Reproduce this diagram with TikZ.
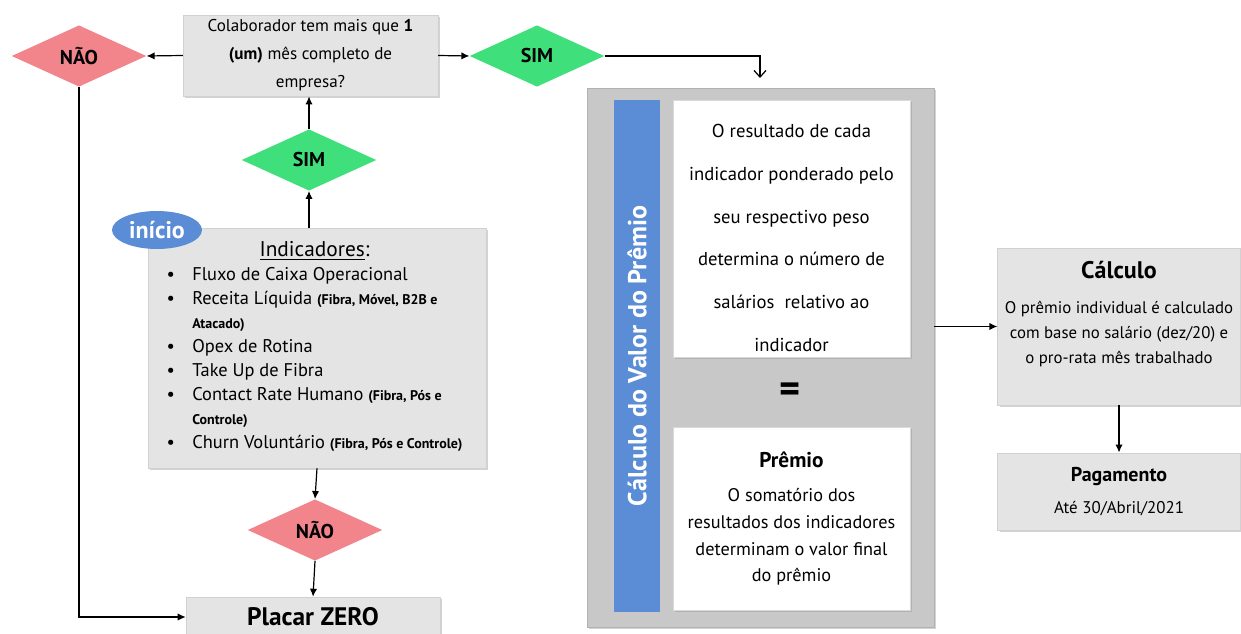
\documentclass[tikz,border=0pt]{standalone}
\usepackage{fontspec}
\setmainfont{PT Sans}
\usetikzlibrary{shapes.geometric,shadows,arrows.meta}

\definecolor{boxgray}{HTML}{E4E4E4}
\definecolor{framegray}{HTML}{C8C8C8}
\definecolor{barblue}{HTML}{5A8DD6}
\definecolor{naored}{HTML}{F2858C}
\definecolor{simgreen}{HTML}{3FE07C}

\begin{document}
\begin{tikzpicture}
      [x=0.75pt, y=-0.75pt,
       greybox/.style={
           rectangle,
           draw=black!18, fill=boxgray,
           drop shadow={shadow xshift=1.5pt, shadow yshift=-1.5pt, opacity=.35},
           inner sep=2pt,
           align=center
         },
       whitebox/.style={
           rectangle,
           draw=black!15, fill=white,
           drop shadow={shadow xshift=1.5pt, shadow yshift=-1.5pt, opacity=.3},
           inner sep=2pt,
           align=center
         },
       nao/.style={
           diamond, fill=naored, inner sep=0pt,
           minimum width=101pt, minimum height=46pt,
           font=\fontsize{15}{15}\selectfont\bfseries
         },
       sim/.style={
           diamond, fill=simgreen, inner sep=0pt,
           minimum width=101pt, minimum height=46pt,
           font=\fontsize{15}{15}\selectfont\bfseries
         },
       arr/.style={draw=black, line width=0.9pt, -{Latex[length=6pt,width=5.5pt]}},
       ]
    \useasboundingbox (0,0) rectangle (1241,634);

    % question and the first answers
    \node [greybox, minimum width=191pt, minimum height=61pt,
           font=\fontsize{12.8}{21}\selectfont] (quest) at (310.5,55.5) {
      Colaborador tem mais que \textbf{1}\\
      \textbf{(um)} mês completo de\\
      empresa?
    };
    \node [nao] (nao1) at (79,56) {NÃO};
    \node [sim] (sim1) at (537,56) {SIM};
    \node [sim] (sim2) at (309,160) {SIM};

    % indicators
    \node [greybox, minimum width=253.5pt, minimum height=180pt] (ind) at (317,348) {
      \fontsize{13.8}{18}\selectfont
      \begin{tabular}{@{}c@{\hspace{13pt}}l@{}}
        \multicolumn{2}{c}{\fontsize{16}{18}\selectfont\underline{Indicadores}:}\\
        \textbullet & Fluxo de Caixa Operacional\\
        \textbullet & Receita Líquida {\fontsize{10.5}{12}\selectfont\bfseries (Fibra, Móvel, B2B e}\\
                    & {\fontsize{10.5}{12}\selectfont\bfseries Atacado)}\\
        \textbullet & Opex de Rotina\\
        \textbullet & Take Up de Fibra\\
        \textbullet & Contact Rate Humano {\fontsize{10.5}{12}\selectfont\bfseries (Fibra, Pós e}\\
                    & {\fontsize{10.5}{12}\selectfont\bfseries Controle)}\\
        \textbullet & Churn Voluntário {\fontsize{10.5}{12}\selectfont\bfseries (Fibra, Pós e Controle)}
      \end{tabular}
    };
    \node [ellipse, fill=barblue, inner sep=0pt, minimum width=67.5pt, minimum height=28.5pt,
           text=white, font=\fontsize{18}{18}\selectfont\bfseries] (start) at (157,230) {início};

    \node [nao] (nao2) at (315,530) {NÃO};
    \node [greybox, minimum width=190.5pt, minimum height=30pt,
           font=\fontsize{19}{19}\selectfont\bfseries] (zero) at (313,617) {Placar ZERO};

    % prize value block
    \node [rectangle, draw=black!30, fill=framegray, minimum width=260pt, minimum height=404pt,
           drop shadow={shadow xshift=1.5pt, shadow yshift=-1.5pt, opacity=.35}] (calcbox) at (760.5,357.5) {};
    \node [rectangle, fill=barblue, rotate=90, minimum width=384pt, minimum height=34.5pt,
           text=white, font=\fontsize{19.5}{20}\selectfont\bfseries] (bar) at (637,356) {Cálculo do Valor do Prêmio};
    \node [whitebox, minimum width=178pt, minimum height=193pt] (result) at (791.5,228.5) {};
    \node [font=\fontsize{14}{32}\selectfont, align=center] (resulttext) at (791.5,238) {
      O resultado de cada\\
      indicador ponderado pelo\\
      seu respectivo peso\\
      determina o número de\\
      salários\ \ relativo ao\\
      indicador
    };
    \node [font=\fontsize{30}{30}\selectfont\bfseries] (equal) at (790,393) {=};
    \node [whitebox, minimum width=178pt, minimum height=137pt,
           font=\fontsize{13.7}{20}\selectfont] (premio) at (791.5,518.5) {
      {\fontsize{16}{16}\selectfont\bfseries Prêmio}\\[6pt]
      O somatório dos\\
      resultados dos indicadores\\
      determinam o valor final\\
      do prêmio
    };

    % payment side
    \node [greybox, minimum width=182pt, minimum height=118pt] (calc) at (1119,326.5) {};
    \node [font=\fontsize{18}{18}\selectfont\bfseries] (calctitle) at (1119,270) {Cálculo};
    \node [font=\fontsize{12.6}{19}\selectfont, align=center] (calctext) at (1119,334) {
      O prêmio individual é calculado\\
      com base no salário (dez/20) e\\
      o pro-rata mês trabalhado
    };
    \node [greybox, minimum width=182pt, minimum height=58pt,
           font=\fontsize{12.7}{24}\selectfont] (pay) at (1119,491.5) {
      {\fontsize{15}{15}\selectfont\bfseries Pagamento}\\
      Até 30/Abril/2021
    };

    % connectors
    \draw [arr] (quest.west) -- (nao1.east);
    \draw [arr] (quest.east) -- (sim1.west);
    \coordinate (drop) at (760,78);
    \draw [line width=0.9pt, -{Straight Barb[length=5pt,width=9pt]}] (sim1.east) -| (drop);
    \draw [arr] (sim2.north) -- (sim2.north |- quest.south);
    \draw [arr] (sim2.south |- ind.north) -- (sim2.south);
    \draw [arr] (ind.south) -- (nao2.north);
    \draw [arr] (nao2.south) -- (zero.north);
    \draw [arr] (nao1.south) |- (zero.west);
    \draw [arr] (calc.west -| calcbox.east) -- (calc.west);
    \draw [arr] (calc.south) -- (pay.north);

  \end{tikzpicture}
\end{document}
